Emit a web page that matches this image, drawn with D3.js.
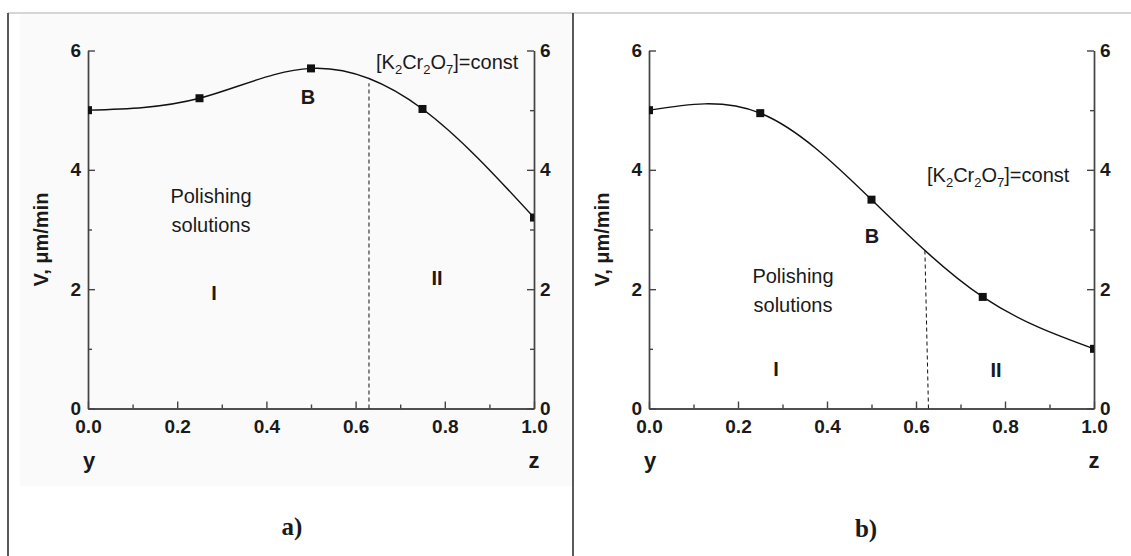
<!DOCTYPE html>
<html>
<head>
<meta charset="utf-8">
<script src="https://cdn.jsdelivr.net/npm/d3@7"></script>
<style>
	body { margin: 0; background: #fff; }
	svg text { font-family: "Liberation Sans", Arial, sans-serif; fill: #1a1a1a; }
	.axis path, .axis line { stroke: #444; stroke-width: 1.4; }
	.axis text { font-weight: bold; font-size: 19px; }
</style>
</head>
<body>
<div id="fig"></div>
<script>
/* data */
var xTicks = [0, 0.2, 0.4, 0.6, 0.8, 1.0];
var xMinor = [0.1, 0.3, 0.5, 0.7, 0.9];
var yTicks = [0, 2, 4, 6];
var yMinor = [1, 3, 5];

var frac = [0, 0.25, 0.5, 0.75, 1.0];
var rateA = [5.0, 5.2, 5.7, 5.02, 3.2];
var rateB = [5.0, 4.95, 3.5, 1.87, 1.0];

var boundaryA = [[0.63, 0], [0.63, 5.45]];
var boundaryB = [[0.628, 0], [0.62, 2.65]];

var W = 1131, H = 556;

var svg = d3.select("#fig").append("svg")
	.attr("width", W)
	.attr("height", H);

/* frame */
svg.append("rect").attr("x", 20).attr("y", 14).attr("width", 552).attr("height", 472).attr("fill", "#fafafa");
svg.append("line").attr("x1", 8).attr("x2", W).attr("y1", 13).attr("y2", 13).attr("stroke", "#c8c8c8").attr("stroke-width", 1.5);
svg.append("line").attr("x1", 8).attr("x2", 8).attr("y1", 13).attr("y2", H).attr("stroke", "#222").attr("stroke-width", 1.5);
svg.append("line").attr("x1", 573).attr("x2", 573).attr("y1", 13).attr("y2", H).attr("stroke", "#222").attr("stroke-width", 1.5);

function constLabel(g, x, y) {
	var t = g.append("text").attr("x", x).attr("y", y).style("font-size", "20px");
	var parts = [["[K", 0], ["2", 1], ["Cr", 0], ["2", 1], ["O", 0], ["7", 1], ["]=const", 0]];
	var prev = 0;
	parts.forEach(function(p) {
		var shift = p[1] ? 5 : 0;
		t.append("tspan").text(p[0])
			.attr("dy", shift - prev)
			.style("font-size", p[1] ? "13px" : "20px");
		prev = shift;
	});
}

function panel(id, x0, x1, rates, boundary, lab) {
	var x = d3.scaleLinear().domain([0, 1]).range([x0, x1]);
	var y = d3.scaleLinear().domain([0, 6]).range([408.5, 50.5]);
	var g = svg.append("g").attr("class", "panel-" + id);

	/* axes, ticks pointing inward */
	g.append("g").attr("class", "axis")
		.attr("transform", "translate(0," + y(0) + ")")
		.call(d3.axisBottom(x).tickValues(xTicks).tickSize(-7).tickSizeOuter(0).tickPadding(11).tickFormat(d3.format(".1f")));
	g.append("g").attr("class", "axis")
		.attr("transform", "translate(0," + y(0) + ")")
		.call(d3.axisBottom(x).tickValues(xMinor).tickSize(-4).tickSizeOuter(0).tickFormat(""));
	g.append("g").attr("class", "axis")
		.attr("transform", "translate(" + x0 + ",0)")
		.call(d3.axisLeft(y).tickValues(yTicks).tickSize(-7).tickSizeOuter(0).tickPadding(7).tickFormat(d3.format("d")));
	g.append("g").attr("class", "axis")
		.attr("transform", "translate(" + x0 + ",0)")
		.call(d3.axisLeft(y).tickValues(yMinor).tickSize(-4).tickSizeOuter(0).tickFormat(""));
	g.append("g").attr("class", "axis")
		.attr("transform", "translate(" + x1 + ",0)")
		.call(d3.axisRight(y).tickValues(yTicks).tickSize(-7).tickSizeOuter(0).tickPadding(6).tickFormat(d3.format("d")));
	g.append("g").attr("class", "axis")
		.attr("transform", "translate(" + x1 + ",0)")
		.call(d3.axisRight(y).tickValues(yMinor).tickSize(-4).tickSizeOuter(0).tickFormat(""));
	g.selectAll(".axis text").style("fill", "#1a1a1a");

	/* clip for markers at the frame */
	svg.append("clipPath").attr("id", "clip-" + id)
		.append("rect").attr("x", x0).attr("y", y(6)).attr("width", x1 - x0).attr("height", y(0) - y(6));

	var pts = frac.map(function(f, i) { return [f, rates[i]]; });
	var line = d3.line().x(function(d) { return x(d[0]); }).y(function(d) { return y(d[1]); }).curve(d3.curveNatural);

	g.append("path").datum(pts)
		.attr("d", line)
		.attr("fill", "none").attr("stroke", "#111").attr("stroke-width", 1.4);

	g.append("path").datum(boundary)
		.attr("d", d3.line().x(function(d) { return x(d[0]); }).y(function(d) { return y(d[1]); }))
		.attr("fill", "none").attr("stroke", "#111").attr("stroke-width", 1).attr("stroke-dasharray", "4,3");

	g.append("g").attr("clip-path", "url(#clip-" + id + ")")
		.selectAll("rect").data(pts).enter().append("rect")
		.attr("x", function(d) { return x(d[0]) - 4; })
		.attr("y", function(d) { return y(d[1]) - 4; })
		.attr("width", 8).attr("height", 8)
		.attr("fill", "#111");

	/* axis titles */
	g.append("text").attr("transform", "translate(" + (x0 - 40) + "," + (y(3) + 10) + ") rotate(-90)")
		.attr("text-anchor", "middle").style("font-weight", "bold").style("font-size", "20px")
		.text("V, \u03bcm/min");
	g.append("text").attr("x", x0 + 1).attr("y", 468).attr("text-anchor", "middle")
		.style("font-weight", "bold").style("font-size", "22px").text("y");
	g.append("text").attr("x", x1).attr("y", 468).attr("text-anchor", "middle")
		.style("font-weight", "bold").style("font-size", "22px").text("z");

	/* annotations */
	constLabel(g, lab.constX, lab.constY);
	g.append("text").attr("x", lab.bX).attr("y", lab.bY).attr("text-anchor", "middle")
		.style("font-weight", "bold").style("font-size", "20px").text("B");
	g.append("text").attr("x", lab.polX).attr("y", lab.polY).attr("text-anchor", "middle")
		.style("font-size", "20px").text("Polishing");
	g.append("text").attr("x", lab.polX).attr("y", lab.polY + 29).attr("text-anchor", "middle")
		.style("font-size", "20px").text("solutions");
	g.append("text").attr("x", lab.iX).attr("y", lab.iY).attr("text-anchor", "middle")
		.style("font-weight", "bold").style("font-size", "20px").text("I");
	g.append("text").attr("x", lab.iiX).attr("y", lab.iiY).attr("text-anchor", "middle")
		.style("font-weight", "bold").style("font-size", "20px").text("II");
	g.append("text").attr("x", lab.capX).attr("y", lab.capY).attr("text-anchor", "middle")
		.style("font-family", "'Liberation Serif', 'Times New Roman', serif").style("font-weight", "bold").style("font-size", "25px")
		.text(id + ")");
}

panel("a", 88, 534, rateA, boundaryA, {
	constX: 376, constY: 69, bX: 308, bY: 104, polX: 211, polY: 203,
	iX: 214, iY: 300, iiX: 437, iiY: 285, capX: 292, capY: 535
});
panel("b", 649, 1094, rateB, boundaryB, {
	constX: 927, constY: 182, bX: 872, bY: 243, polX: 793, polY: 283,
	iX: 776, iY: 376, iiX: 996, iiY: 377, capX: 866, capY: 537
});
</script>
</body>
</html>
